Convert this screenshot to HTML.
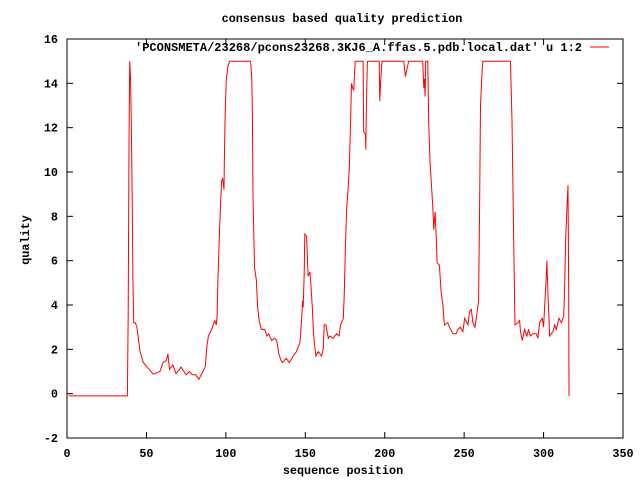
<!DOCTYPE html>
<html><head><meta charset="utf-8"><style>
body{margin:0;background:#fff}
svg text{font-family:"Liberation Mono",monospace;font-size:11.8px;font-weight:bold;fill:#000}
</style></head><body>
<svg width="640" height="480" xmlns="http://www.w3.org/2000/svg">
<rect width="640" height="480" fill="#fff"/>
<text x="342" y="22" text-anchor="middle">consensus based quality prediction</text>
<g id="axes"></g>
<text x="582" y="51" text-anchor="end" textLength="447" lengthAdjust="spacingAndGlyphs">'PCONSMETA/23268/pcons23268.3KJ6_A.ffas.5.pdb.local.dat' u 1:2</text>
<line x1="590" y1="47" x2="609" y2="47" stroke="#f00"/>
<text x="343" y="474" text-anchor="middle">sequence position</text>
<text transform="translate(29,240) rotate(-90)" text-anchor="middle">quality</text>
<path id="series" fill="none" stroke="#f00" stroke-width="1"/>
</svg>
<script>
const xTicks=[0,50,100,150,200,250,300,350];
const yTicks=[-2,0,2,4,6,8,10,12,14,16];
const xs=[1,38,38.5,39,39.5,40,40.5,41,41.5,42,43,44,46,48,54.3,58.5,60.5,62.5,63.5,64.5,66.6,68.7,71.8,75,77,79,81,83,85.5,87,88,89,91,93,94,94.5,95,96,96.7,97.3,98,98.8,99,99.6,100.3,101.4,102.4,115.6,116.3,116.7,117.1,118,119.2,120,121,122.3,124.4,125.9,127,128.8,130.7,132,133.3,134.7,135.8,137.9,140,142.4,144.5,146.6,147.7,148.3,148.7,149.3,149.7,150.8,151.8,152.9,153.5,154.4,155,155.7,156.7,158.2,160.3,161.3,161.9,163,164.5,165.5,167.6,169.7,171.2,172.2,173.9,174.5,175.2,176,177,177.7,178.5,179.1,179.7,180.5,181.4,186.4,186.8,187.9,188.1,188.5,189.1,196.5,196.9,197.5,198.3,212,213,213.9,215.1,223.9,224.6,225,225.4,225.8,227.1,227.7,228.6,230.2,230.9,231.7,232.4,233,234.4,235.5,236.6,237.6,239.7,240.8,242.9,245,246,247.5,249.2,250.3,252.4,253.4,254.5,255.5,256.8,258,259.1,259.7,260.3,261.2,261.8,279.2,280.1,281.1,282,283.9,284.9,285.5,286.6,288,289.5,290.6,291.6,293.3,295.4,296.4,297.5,299.2,300,300.7,301.7,302.1,302.8,303.4,303.8,305.9,307,308,309.7,311.2,312.7,313.3,313.9,314.8,315.4,315.8,316];
const ys=[-0.1,-0.1,3.7,11.3,15,14.3,12.2,9.2,5.3,3.2,3.2,3.0,1.9,1.4,0.88,1.0,1.4,1.5,1.8,1.1,1.3,0.9,1.2,0.85,1.0,0.85,0.85,0.65,1.0,1.2,2.1,2.6,2.9,3.3,3.1,3.5,5.1,7.3,8.6,9.6,9.7,9.2,10.4,12.7,14.2,14.8,15,15,14.2,12.7,8.9,5.7,5.1,3.9,3.3,2.9,2.9,2.6,2.7,2.4,2.5,2.4,1.8,1.5,1.4,1.6,1.4,1.7,1.9,2.3,3.3,4.2,3.9,5.4,7.2,7.1,5.3,5.5,5.0,3.9,3.0,2.3,1.7,1.9,1.7,2.0,3.1,3.1,2.5,2.6,2.5,2.7,2.6,3.1,3.4,4.4,6.4,8.3,9.3,10.2,12.3,14.0,13.8,13.7,15,15,11.8,11.7,11.0,13.0,15,15,13.2,14.1,15,15,14.3,14.6,15,15,13.8,14.2,13.4,15,15,12.2,10.4,8.5,7.4,8.2,7.1,5.9,5.8,4.6,4.0,3.1,3.2,3.0,2.7,2.7,2.9,3.0,2.8,3.4,3.1,3.7,3.8,3.2,3.0,3.6,4.2,8.4,13.0,14.4,15,15,12.3,7.5,3.1,3.2,3.3,2.8,2.4,2.9,2.6,2.9,2.6,2.7,2.7,2.5,3.2,3.4,3.0,4.0,5.3,6.0,4.4,3.4,2.6,2.8,3.1,2.9,3.4,3.2,3.5,4.9,7.0,8.6,9.4,4.6,-0.1];
const L=67,R=623,T=39,B=438;
const X=v=>L+(v-0)/350*(R-L);
const Y=v=>B-(v+2)/18*(B-T);
const NS="http://www.w3.org/2000/svg";
const ax=document.getElementById('axes');
function mk(tag,attrs){const e=document.createElementNS(NS,tag);for(const k in attrs)e.setAttribute(k,attrs[k]);ax.appendChild(e);return e;}
const fr=mk('rect',{x:L,y:T,width:R-L,height:B-T,fill:'none',stroke:'#000'});


xTicks.forEach(t=>{const x=X(t);
 mk('line',{x1:x,y1:B,x2:x,y2:B-6,stroke:'#000'});
 mk('line',{x1:x,y1:T,x2:x,y2:T+6,stroke:'#000'});
 const tx=mk('text',{x:x,y:B+19,'text-anchor':'middle'});tx.textContent=t;
 
 
});
yTicks.forEach(t=>{const y=Y(t);
 mk('line',{x1:L,y1:y,x2:L+6,y2:y,stroke:'#000'});
 mk('line',{x1:R,y1:y,x2:R-6,y2:y,stroke:'#000'});
 const tx=mk('text',{x:L-9,y:y+4,'text-anchor':'end'});tx.textContent=t;
 
 
});
document.getElementById('series').setAttribute('d',xs.map((v,i)=>(i?'L':'M')+X(v).toFixed(1)+' '+Y(ys[i]).toFixed(1)).join(' '));
</script>
</body></html>
